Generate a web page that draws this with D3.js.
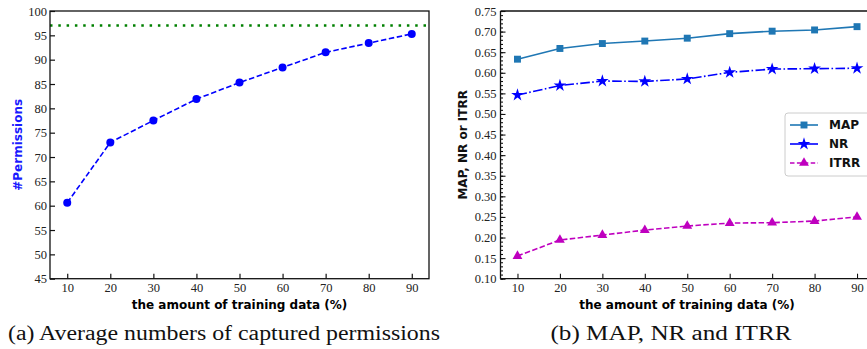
<!DOCTYPE html>
<html>
<head>
<meta charset="utf-8">
<script src="https://cdn.jsdelivr.net/npm/d3@7"></script>
<style>
  body { margin: 0; background: #fff; }
  .tick text { font-family: "Liberation Serif", serif; font-size: 12.5px; fill: #222; }
  .lbl { font-family: "DejaVu Sans", sans-serif; font-weight: bold; font-size: 12px; }
  .cap { font-family: "Liberation Serif", serif; font-size: 20px; fill: #111; }
</style>
</head>
<body>
<svg id="chart" width="867" height="349"></svg>
<script>
// data
var trainPct = [10, 20, 30, 40, 50, 60, 70, 80, 90];
var permissions = [60.6, 73.0, 77.5, 81.9, 85.3, 88.4, 91.5, 93.4, 95.3];
var totalPermissions = 97;
var mapVals = [0.633, 0.659, 0.671, 0.677, 0.684, 0.695, 0.701, 0.704, 0.712];
var nrVals = [0.546, 0.569, 0.580, 0.579, 0.585, 0.601, 0.609, 0.610, 0.611];
var itrrVals = [0.155, 0.194, 0.206, 0.218, 0.228, 0.235, 0.236, 0.240, 0.250];
var leftTicks = [45, 50, 55, 60, 65, 70, 75, 80, 85, 90, 95, 100];
var rightTicks = [0.10, 0.15, 0.20, 0.25, 0.30, 0.35, 0.40, 0.45, 0.50, 0.55, 0.60, 0.65, 0.70, 0.75];

var svg = d3.select("#chart");
var plotTop = 11, plotBottom = 278.7;

// ---------- panel (a) ----------
var xa = d3.scaleLinear().domain([6, 94]).range([50, 429]);
var ya = d3.scaleLinear().domain([45, 100]).range([plotBottom, plotTop]);

var ga = svg.append("g");
ga.append("g").attr("transform", "translate(0," + plotBottom + ")")
  .call(d3.axisBottom(xa).tickValues(trainPct).tickSize(-5).tickSizeOuter(0).tickPadding(4));
ga.append("g").attr("transform", "translate(50,0)")
  .call(d3.axisLeft(ya).tickValues(leftTicks).tickSize(-5).tickSizeOuter(0).tickPadding(3));
ga.selectAll(".domain").remove();
ga.selectAll(".tick line").attr("stroke", "#111").attr("stroke-width", 1.2);

ga.append("line")
  .attr("x1", xa(6)).attr("x2", xa(94))
  .attr("y1", ya(totalPermissions)).attr("y2", ya(totalPermissions))
  .attr("stroke", "#008000").attr("stroke-width", 2.5)
  .attr("stroke-dasharray", "2.5,5.8");

var lineA = d3.line().x(function(d, i) { return xa(trainPct[i]); }).y(function(d) { return ya(d); });
ga.append("path").datum(permissions).attr("d", lineA)
  .attr("fill", "none").attr("stroke", "#0000ff").attr("stroke-width", 1.6)
  .attr("stroke-dasharray", "5.5,2.6");
ga.selectAll("circle.pt").data(permissions).enter().append("circle")
  .attr("cx", function(d, i) { return xa(trainPct[i]); })
  .attr("cy", function(d) { return ya(d); })
  .attr("r", 4).attr("fill", "#0000ff");

ga.append("rect").attr("x", 50).attr("y", plotTop).attr("width", 379).attr("height", plotBottom - plotTop)
  .attr("fill", "none").attr("stroke", "#111").attr("stroke-width", 1.3);

ga.append("text").attr("class", "lbl").attr("fill", "#1a1aff")
  .attr("transform", "translate(21.5," + (plotTop + plotBottom) / 2 + ") rotate(-90)")
  .attr("text-anchor", "middle").text("#Permissions");
ga.append("text").attr("class", "lbl").attr("x", 239.5).attr("y", 308.5)
  .attr("text-anchor", "middle").text("the amount of training data (%)");
ga.append("text").attr("class", "cap").attr("x", 8).attr("y", 340)
  .attr("textLength", 432).attr("lengthAdjust", "spacingAndGlyphs")
  .text("(a) Average numbers of captured permissions");

// ---------- panel (b) ----------
var xb = d3.scaleLinear().domain([6, 94]).range([500.5, 874]);
var yb = d3.scaleLinear().domain([0.10, 0.75]).range([plotBottom, plotTop]);

var gb = svg.append("g");
gb.append("g").attr("transform", "translate(0," + plotBottom + ")")
  .call(d3.axisBottom(xb).tickValues(trainPct).tickSize(-5).tickSizeOuter(0).tickPadding(4));
gb.append("g").attr("transform", "translate(500.5,0)")
  .call(d3.axisLeft(yb).ticks(65).tickSize(-2.5).tickSizeOuter(0).tickFormat(""));
gb.append("g").attr("transform", "translate(500.5,0)")
  .call(d3.axisLeft(yb).tickValues(rightTicks).tickSize(-5).tickSizeOuter(0).tickPadding(4).tickFormat(d3.format(".2f")));
gb.selectAll(".domain").remove();
gb.selectAll(".tick line").attr("stroke", "#111").attr("stroke-width", 1.1);

var lineB = function(vals) {
  return d3.line().x(function(d, i) { return xb(trainPct[i]); }).y(function(d) { return yb(d); })(vals);
};
var series = [
  { name: "MAP", vals: mapVals, color: "#1f77b4", dash: null, sym: d3.symbolSquare, size: 48 },
  { name: "NR", vals: nrVals, color: "#0000ff", dash: "9.6,2.4,1.6,2.4", sym: d3.symbolStar, size: 50 },
  { name: "ITRR", vals: itrrVals, color: "#bf00bf", dash: "5.5,2.4", sym: d3.symbolTriangle, size: 42 }
];

series.forEach(function(s) {
  gb.append("path").attr("d", lineB(s.vals))
    .attr("fill", "none").attr("stroke", s.color).attr("stroke-width", 1.6)
    .attr("stroke-dasharray", s.dash);
  gb.selectAll(null).data(s.vals).enter().append("path")
    .attr("d", d3.symbol().type(s.sym).size(s.size))
    .attr("transform", function(d, i) { return "translate(" + xb(trainPct[i]) + "," + yb(d) + ")"; })
    .attr("fill", s.color);
});

gb.append("line").attr("x1", 500.5).attr("x2", 867).attr("y1", plotTop).attr("y2", plotTop)
  .attr("stroke", "#111").attr("stroke-width", 1.3);
gb.append("line").attr("x1", 500.5).attr("x2", 500.5).attr("y1", plotTop).attr("y2", plotBottom)
  .attr("stroke", "#111").attr("stroke-width", 1.3);
gb.append("line").attr("x1", 500.5).attr("x2", 867).attr("y1", plotBottom).attr("y2", plotBottom)
  .attr("stroke", "#111").attr("stroke-width", 1.3);

// legend
var lg = gb.append("g");
lg.append("rect").attr("x", 785).attr("y", 113).attr("width", 95).attr("height", 63).attr("rx", 3)
  .attr("fill", "#fff").attr("fill-opacity", 0.8).attr("stroke", "#ccc");
series.forEach(function(s, i) {
  var yy = 125 + i * 19;
  lg.append("line").attr("x1", 790).attr("x2", 818).attr("y1", yy).attr("y2", yy)
    .attr("stroke", s.color).attr("stroke-width", 1.6).attr("stroke-dasharray", s.name === "ITRR" ? "4.5,2.4" : null);
  lg.append("path").attr("d", d3.symbol().type(s.sym).size(s.size))
    .attr("transform", "translate(804," + yy + ")").attr("fill", s.color);
  lg.append("text").attr("class", "lbl").attr("x", 829).attr("y", yy + 4.4).attr("fill", "#111").text(s.name);
});

gb.append("text").attr("class", "lbl").attr("fill", "#111")
  .attr("transform", "translate(466.5," + (plotTop + plotBottom) / 2 + ") rotate(-90)")
  .attr("text-anchor", "middle").text("MAP, NR or ITRR");
gb.append("text").attr("class", "lbl").attr("x", 687).attr("y", 308.5)
  .attr("text-anchor", "middle").text("the amount of training data (%)");
gb.append("text").attr("class", "cap").attr("x", 671).attr("y", 340)
  .attr("text-anchor", "middle").attr("textLength", 241).attr("lengthAdjust", "spacingAndGlyphs")
  .text("(b) MAP, NR and ITRR");
</script>
</body>
</html>
